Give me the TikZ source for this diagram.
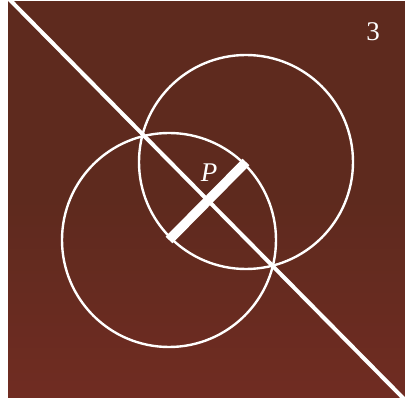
\documentclass[tikz,border=0pt]{standalone}
\usepackage{fontspec}
\setmainfont{Liberation Serif}
\begin{document}
\begin{tikzpicture}[x=1pt,y=-1pt,
  circ/.style={draw=white,line width=2.4pt},
  diag/.style={draw=white,line width=4pt},
  bar/.style={draw=white,line width=9.5pt},
  lab/.style={text=white,font=\fontsize{27}{27}\selectfont,inner sep=0pt}]
\definecolor{bgtop}{RGB}{94,42,30}
\definecolor{bgbot}{RGB}{112,44,34}
\useasboundingbox (0,0) rectangle (405,401);
\fill[white] (0,0) rectangle (405,401);
\shade[top color=bgtop,bottom color=bgbot,middle color=bgtop] (8,2) rectangle (405,397);
\begin{scope}
\clip (8,2) rectangle (405,397);
\coordinate (A) at (246,162);
\coordinate (B) at (169,240);
\coordinate (D1) at (8,-2);
\coordinate (D2) at (407,402);
\draw[circ] (A) circle (107);
\draw[circ] (B) circle (107);
\draw[diag] (D1) -- (D2);
\draw[bar] (B) -- (A);
\end{scope}
\node[lab,font=\itshape\fontsize{27}{27}\selectfont] (P) at (209,173) {P};
\node[lab] (n3) at (373,32) {3};
\end{tikzpicture}
\end{document}
